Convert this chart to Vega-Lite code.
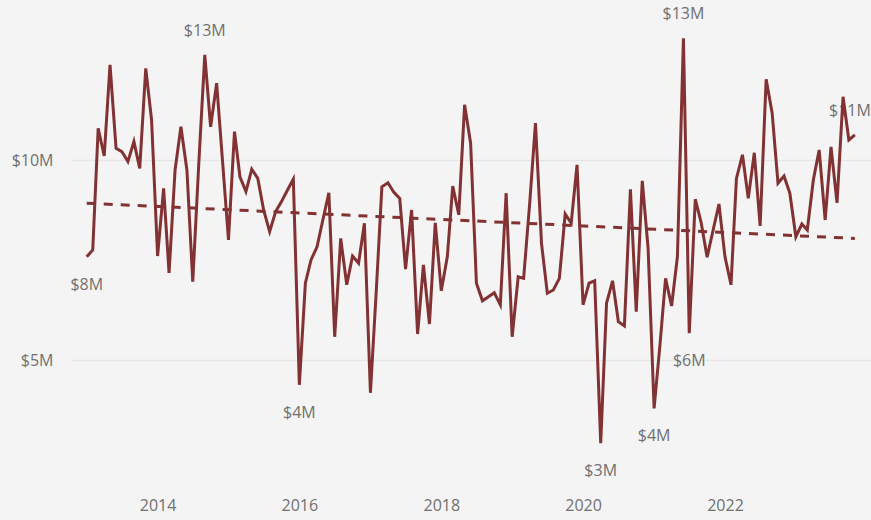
{
  "$schema": "https://vega.github.io/schema/vega-lite/v6.json",
  "width": 800,
  "height": 480,
  "autosize": {"type": "none"},
  "padding": {"left": 71, "top": 0, "right": 0, "bottom": 40},
  "background": "#f4f4f4",
  "config": {"view": {"stroke": null}, "font": "Open Sans"},
  "datasets": {
    "sales": [
      {"date": "2013-01-01", "value": 7.58, "label": "$8M"},
      {"date": "2013-02-01", "value": 7.75},
      {"date": "2013-03-01", "value": 10.79},
      {"date": "2013-04-01", "value": 10.1},
      {"date": "2013-05-01", "value": 12.38},
      {"date": "2013-06-01", "value": 10.29},
      {"date": "2013-07-01", "value": 10.21},
      {"date": "2013-08-01", "value": 9.96},
      {"date": "2013-09-01", "value": 10.46},
      {"date": "2013-10-01", "value": 9.79},
      {"date": "2013-11-01", "value": 12.29},
      {"date": "2013-12-01", "value": 11.0},
      {"date": "2014-01-01", "value": 7.6},
      {"date": "2014-02-01", "value": 9.29},
      {"date": "2014-03-01", "value": 7.18},
      {"date": "2014-04-01", "value": 9.75},
      {"date": "2014-05-01", "value": 10.83},
      {"date": "2014-06-01", "value": 9.75},
      {"date": "2014-07-01", "value": 6.96},
      {"date": "2014-08-01", "value": 9.9},
      {"date": "2014-09-01", "value": 12.63, "label": "$13M"},
      {"date": "2014-10-01", "value": 10.83},
      {"date": "2014-11-01", "value": 11.92},
      {"date": "2014-12-01", "value": 10.0},
      {"date": "2015-01-01", "value": 8.0},
      {"date": "2015-02-01", "value": 10.71},
      {"date": "2015-03-01", "value": 9.58},
      {"date": "2015-04-01", "value": 9.21},
      {"date": "2015-05-01", "value": 9.77},
      {"date": "2015-06-01", "value": 9.54},
      {"date": "2015-07-01", "value": 8.75},
      {"date": "2015-08-01", "value": 8.21},
      {"date": "2015-09-01", "value": 8.71},
      {"date": "2015-10-01", "value": 8.96},
      {"date": "2015-11-01", "value": 9.25},
      {"date": "2015-12-01", "value": 9.52},
      {"date": "2016-01-01", "value": 4.38, "label": "$4M"},
      {"date": "2016-02-01", "value": 6.92},
      {"date": "2016-03-01", "value": 7.5},
      {"date": "2016-04-01", "value": 7.83},
      {"date": "2016-05-01", "value": 8.5},
      {"date": "2016-06-01", "value": 9.18},
      {"date": "2016-07-01", "value": 5.58},
      {"date": "2016-08-01", "value": 8.04},
      {"date": "2016-09-01", "value": 6.88},
      {"date": "2016-10-01", "value": 7.6},
      {"date": "2016-11-01", "value": 7.42},
      {"date": "2016-12-01", "value": 8.42},
      {"date": "2017-01-01", "value": 4.18},
      {"date": "2017-02-01", "value": 6.8},
      {"date": "2017-03-01", "value": 9.33},
      {"date": "2017-04-01", "value": 9.43},
      {"date": "2017-05-01", "value": 9.2},
      {"date": "2017-06-01", "value": 9.04},
      {"date": "2017-07-01", "value": 7.27},
      {"date": "2017-08-01", "value": 8.75},
      {"date": "2017-09-01", "value": 5.65},
      {"date": "2017-10-01", "value": 7.38},
      {"date": "2017-11-01", "value": 5.9},
      {"date": "2017-12-01", "value": 8.43},
      {"date": "2018-01-01", "value": 6.73},
      {"date": "2018-02-01", "value": 7.58},
      {"date": "2018-03-01", "value": 9.35},
      {"date": "2018-04-01", "value": 8.63},
      {"date": "2018-05-01", "value": 11.38},
      {"date": "2018-06-01", "value": 10.42},
      {"date": "2018-07-01", "value": 6.92},
      {"date": "2018-08-01", "value": 6.48},
      {"date": "2018-09-01", "value": 6.58},
      {"date": "2018-10-01", "value": 6.68},
      {"date": "2018-11-01", "value": 6.38},
      {"date": "2018-12-01", "value": 9.17},
      {"date": "2019-01-01", "value": 5.58},
      {"date": "2019-02-01", "value": 7.08},
      {"date": "2019-03-01", "value": 7.04},
      {"date": "2019-04-01", "value": 8.9},
      {"date": "2019-05-01", "value": 10.92},
      {"date": "2019-06-01", "value": 7.92},
      {"date": "2019-07-01", "value": 6.67},
      {"date": "2019-08-01", "value": 6.75},
      {"date": "2019-09-01", "value": 7.04},
      {"date": "2019-10-01", "value": 8.65},
      {"date": "2019-11-01", "value": 8.42},
      {"date": "2019-12-01", "value": 9.88},
      {"date": "2020-01-01", "value": 6.38},
      {"date": "2020-02-01", "value": 6.92},
      {"date": "2020-03-01", "value": 6.98},
      {"date": "2020-04-01", "value": 2.92, "label": "$3M"},
      {"date": "2020-05-01", "value": 6.42},
      {"date": "2020-06-01", "value": 6.98},
      {"date": "2020-07-01", "value": 5.96},
      {"date": "2020-08-01", "value": 5.85},
      {"date": "2020-09-01", "value": 9.27},
      {"date": "2020-10-01", "value": 6.21},
      {"date": "2020-11-01", "value": 9.48},
      {"date": "2020-12-01", "value": 7.8},
      {"date": "2021-01-01", "value": 3.79, "label": "$4M"},
      {"date": "2021-02-01", "value": 5.42},
      {"date": "2021-03-01", "value": 7.04},
      {"date": "2021-04-01", "value": 6.35},
      {"date": "2021-05-01", "value": 7.58},
      {"date": "2021-06-01", "value": 13.04, "label": "$13M"},
      {"date": "2021-07-01", "value": 5.67, "label": "$6M"},
      {"date": "2021-08-01", "value": 9.02},
      {"date": "2021-09-01", "value": 8.42},
      {"date": "2021-10-01", "value": 7.57},
      {"date": "2021-11-01", "value": 8.25},
      {"date": "2021-12-01", "value": 8.9},
      {"date": "2022-01-01", "value": 7.58},
      {"date": "2022-02-01", "value": 6.88},
      {"date": "2022-03-01", "value": 9.54},
      {"date": "2022-04-01", "value": 10.13},
      {"date": "2022-05-01", "value": 9.04},
      {"date": "2022-06-01", "value": 10.18},
      {"date": "2022-07-01", "value": 8.35},
      {"date": "2022-08-01", "value": 12.02},
      {"date": "2022-09-01", "value": 11.17},
      {"date": "2022-10-01", "value": 9.42},
      {"date": "2022-11-01", "value": 9.6},
      {"date": "2022-12-01", "value": 9.17},
      {"date": "2023-01-01", "value": 8.08},
      {"date": "2023-02-01", "value": 8.4},
      {"date": "2023-03-01", "value": 8.25},
      {"date": "2023-04-01", "value": 9.5},
      {"date": "2023-05-01", "value": 10.25},
      {"date": "2023-06-01", "value": 8.5},
      {"date": "2023-07-01", "value": 10.33},
      {"date": "2023-08-01", "value": 8.93},
      {"date": "2023-09-01", "value": 11.58},
      {"date": "2023-10-01", "value": 10.5},
      {"date": "2023-11-01", "value": 10.63, "label": "$11M"}
    ],
    "trend": [
      {"date": "2013-01-01", "value": 8.92},
      {"date": "2023-11-01", "value": 8.04}
    ]
  },
  "encoding": {
    "x": {
      "field": "date",
      "type": "temporal",
      "scale": {
        "type": "utc",
        "domain": [
          {"year": 2012, "month": 10, "date": 12, "utc": true},
          {"year": 2024, "month": 1, "date": 23, "utc": true}
        ]
      },
      "axis": {
        "title": null,
        "values": [
          {"year": 2014, "month": 1, "date": 1, "utc": true},
          {"year": 2016, "month": 1, "date": 1, "utc": true},
          {"year": 2018, "month": 1, "date": 1, "utc": true},
          {"year": 2020, "month": 1, "date": 1, "utc": true},
          {"year": 2022, "month": 1, "date": 1, "utc": true}
        ],
        "format": "%Y",
        "formatType": "utc",
        "domain": false,
        "ticks": false,
        "grid": false,
        "labelFontSize": 16,
        "labelColor": "#707070",
        "labelPadding": 17,
        "labelFlush": false
      }
    },
    "y": {
      "field": "value",
      "type": "quantitative",
      "scale": {"domain": [2, 14], "nice": false, "zero": false},
      "axis": {
        "title": null,
        "values": [5, 10],
        "labelExpr": "'$' + datum.value + 'M'",
        "domain": false,
        "ticks": false,
        "gridColor": "#e6e6e6",
        "gridWidth": 1.5,
        "labelFontSize": 16,
        "labelColor": "#707070",
        "labelPadding": 18
      }
    }
  },
  "layer": [
    {
      "data": {"name": "sales"},
      "transform": [{"filter": "datum.label != null && datum.value < 10"}],
      "mark": {"type": "text", "dy": 28, "fontSize": 16, "color": "#707070"},
      "encoding": {"text": {"field": "label"}}
    },
    {
      "data": {"name": "sales"},
      "transform": [{"filter": "datum.label != null && datum.value >= 10 && year(datum.date) < 2023"}],
      "mark": {"type": "text", "dy": -24, "fontSize": 16, "color": "#707070"},
      "encoding": {"text": {"field": "label"}}
    },
    {
      "data": {"name": "sales"},
      "transform": [{"filter": "datum.label != null && datum.value >= 10 && year(datum.date) >= 2023"}],
      "mark": {"type": "text", "dy": -24, "dx": 16, "align": "right", "fontSize": 16, "color": "#707070"},
      "encoding": {"text": {"field": "label"}}
    },
    {
      "data": {"name": "trend"},
      "mark": {"type": "line", "strokeDash": [9, 8], "strokeWidth": 3, "color": "#823232"}
    },
    {
      "data": {"name": "sales"},
      "mark": {"type": "line", "strokeWidth": 3, "color": "#823232", "strokeJoin": "miter"}
    }
  ]
}
